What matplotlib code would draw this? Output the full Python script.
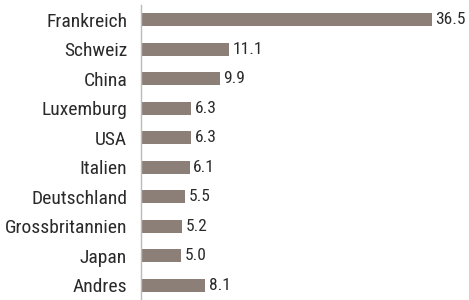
import matplotlib.pyplot as plt

# Data
countries = ["Frankreich", "Schweiz", "China", "Luxemburg", "USA", "Italien",
             "Deutschland", "Grossbritannien", "Japan", "Andres"]
values = [36.5, 11.1, 9.9, 6.3, 6.3, 6.1, 5.5, 5.2, 5.0, 8.1]

plt.rcParams['font.family'] = ['Roboto Condensed', 'DejaVu Sans']

fig = plt.figure(figsize=(4.69, 3.0), dpi=100)
ax = fig.add_axes([141 / 469, 0.0, 1 - 141 / 469, 295 / 300])

bar_color = "#8c7f77"
text_color = "#2a2a2a"
ypos = list(range(len(countries)))
ax.barh(ypos, values, height=0.45, color=bar_color)
for y, v in zip(ypos, values):
    ax.text(v + 0.45, y, f"{v:.1f}", va="center", ha="left", fontsize=12.5, color=text_color)

ax.set_yticks(ypos)
ax.set_yticklabels(countries, fontsize=14, color=text_color)
ax.tick_params(axis="y", length=0, pad=10)
ax.set_ylim(len(countries) - 0.5, -0.5)
ax.set_xlim(0, 41.2)
ax.set_xticks([])
for s in ["top", "right", "bottom"]:
    ax.spines[s].set_visible(False)
ax.spines["left"].set_color("#bbbbbb")
ax.spines["left"].set_linewidth(1)

fig.savefig("out.png", dpi=100)
